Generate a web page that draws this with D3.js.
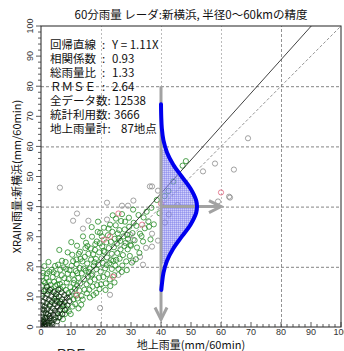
<!DOCTYPE html>
<html><head><meta charset="utf-8">
<script src="https://cdn.jsdelivr.net/npm/d3@7"></script>
<style>body{margin:0;background:#fff}</style>
</head><body>
<svg id="c" width="344" height="351"></svg>
<script>
// ---- text ----
const title = "60分雨量 レーダ:新横浜, 半径0～60kmの精度";
const xLabel = "地上雨量(mm/60min)";
const yLabel = "XRAIN雨量:新横浜(mm/60min)";
const pdfLabel = "PDF";
const statLabels = ["回帰直線", "相関係数", "総雨量比", "ＲＭＳＥ", "全データ数", "統計利用数", "地上雨量計"];
const statValues = ["Y = 1.11X", "0.93", "1.33", "2.64", "12538", "3666", "87地点"];

// ---- axes ----
const majorTicks = [0, 10, 20, 30, 40, 50, 60, 70, 80, 90, 100];
const minorTicks = d3.range(0, 101, 2);
const gridValues = [20, 40, 60, 80];
const slope = 1.11;

// ---- scatter (ground gauge vs radar, mm/60min) ----
const darkPts = [
  [0.2,0.3],[0.5,0.1],[0.3,1.2],[1,0.5],[1.2,1.8],[0.8,2.5],[1.5,1],[2,0.4],[2.2,2.2],[0.4,3.4],
  [1.8,3.1],[2.6,1.3],[3,3],[0.6,4.6],[1.1,5.5],[2.4,4.2],[3.3,2],[3.8,0.8],[0.1,0.9],[0.9,0.2],
  [1.4,2.9],[2.9,0.3],[0.2,2.1],[1.7,4.6],[2.8,3.6],[3.6,1.4],[0.5,5.9],[4.3,2.4],[1.3,0.1],[0.7,1.6],
  [0.3,7.2],[1.2,6.8],[2.1,5.9],[3.2,5.2],[4.1,4.1],[4.9,3.2],[5.4,1.9],[0.8,8.4],[1.9,7.9],[2.9,7.0],
  [3.9,6.2],[4.7,5.4],[5.6,4.5],[6.2,3.3],[1.5,9.6],[2.6,9.1],[3.6,8.3],[4.6,7.6],[5.5,6.7],[6.4,5.6],
  [7.1,4.3],[0.4,10.3],[2.2,10.8],[3.4,10.2],[4.4,9.4],[5.3,8.6],[6.2,7.8],[7.2,6.9],[8.0,5.6],[1.0,11.9],
  [3.0,12.3],[4.2,11.6],[5.1,10.9],[6.0,10.1],[7.0,9.2],[7.9,8.3],[8.8,7.2],[2.0,13.4],[5.8,12.4],[6.9,11.5],
  [7.8,10.6],[8.7,9.7],[9.5,8.6]
];
const greenPts = [
  [0.3,13.8],[0.9,15.2],[0.5,16.9],[1.4,14.6],[1.8,16.3],[0.7,18],[2,17.8],[2.6,15.1],[3.2,14],[3.5,19],
  [2.8,18.4],[3.9,16.6],[4.4,15],[4.8,13.6],[4.2,18.2],[4.7,20.3],[1.1,20.2],[2.5,21.6],[3.4,12.7],[1.6,12.4],
  [0.2,11.1],[2.4,11.9],[5.7,20.7],[5.2,17.6],[5.9,15.6],[6.4,19],[6.9,17.2],[6.3,14.3],[7,22],[7.5,19.8],
  [7.8,16.2],[7.3,13.4],[8.4,19.3],[8.2,21.6],[8.9,17.7],[8.6,14.8],[8.3,12.3],[9.2,15.9],[9.5,18.9],[9.8,13.2],
  [9.1,11.3],[9.6,10.1],[8.9,24.8],[6.1,25.6],[5.1,9.8],[6.6,8.4],[7.6,7.2],[8.5,6.1],[9.3,5.2],[9.9,4.3],
  [5.8,3.1],[7.3,2.6],[6.5,12.6],[5.4,14.1],[4.6,11.9],[3,7.5],[4.8,8.7],[6,5.3],[7,7.6],[8,4.3],
  [10.4,24],[10.2,20.3],[10.6,17.4],[10.9,14.6],[10.3,11.8],[10.8,9.2],[10.5,6.8],[11.1,15.6],[11.6,18.6],[11.8,22.4],
  [11.3,12.7],[11.7,10.4],[12,27],[12,13.8],[12.4,16.3],[12.9,19.6],[12.6,24.3],[12.2,9.5],[12.8,12.1],[13,25],
  [13.1,14.5],[13.5,10.3],[13.6,17.8],[13.8,21.8],[13.4,7.4],[14,30.1],[14.4,15.9],[14.6,23.3],[14.2,19.4],[14.5,12.4],
  [14.9,18.7],[14.8,26.2],[11.4,7.6],[12.5,6.2],[13.9,9.1],[10.1,28.2],[11.9,20.9],[13.2,22.6],[10.7,21.9],[12.1,17.9],
  [15,28],[15.2,14.2],[15.4,21.1],[15.6,16.8],[15.3,11.2],[15.8,24.3],[16.1,12.4],[16.2,19.4],[16.4,15.1],[16.6,26.1],
  [16.9,33.2],[16.7,22.4],[17,30],[17.1,17.5],[17.2,13.4],[17.4,24.2],[17.6,20.4],[17.8,21.5],[17.9,15.8],[18.1,27.5],
  [18.3,22.6],[18.5,19.2],[18.6,28.4],[18.7,13.9],[18.9,31.6],[19,35],[19.1,20.7],[19.3,16.4],[19.4,24.8],[19.7,31.3],
  [19.9,18.4],[19.6,27.8],[16.3,9.8],[17.5,10.6],[18.4,11.3],[19.5,12.6],[15.9,18.3],[16.8,17.1],[18,25.6],[15.5,26.9],
  [20,14.2],[20.2,22.8],[20.4,26.8],[20.6,21.3],[20.8,16.6],[20.3,30.1],[21,33],[21.2,24.9],[21.4,19.5],[21.6,14.5],
  [21.8,28.1],[22,23.1],[22.1,17.6],[22.3,30.5],[22.6,26.2],[22.8,21.2],[22.9,15.8],[23,34],[23.3,28.3],[23.6,19.3],
  [23.6,24.3],[23.8,31.6],[23.9,37.1],[24.1,22],[24.3,26.5],[24.4,17.2],[24.6,29.3],[24.8,20.4],[24.9,33.8],[21.5,12.3],
  [23.1,13.6],[24.5,14.8],[20.9,25.3],[21.9,20.6],[22.5,32.7],[23.4,22.2],
  [25,36],[25.1,22.3],[25.3,27.7],[25.4,24.6],[25.6,31.1],[25.8,19.3],[26.1,32.2],[26.2,22.7],[26.4,28.6],[26.5,25.8],
  [26.7,35.2],[27,37.5],[27.1,20.4],[27.3,23.9],[27.5,30.1],[27.8,26.9],[27.9,32.4],[28,35],[28.2,27.9],[28.4,21.8],
  [28.7,30.6],[28.9,25.8],[29,29.3],[29.3,36.3],[29.4,33.3],[29.6,23.6],[29.8,27.3],[26.9,18.3],[28.6,18.9],[25.9,29.4],
  [30,27],[30.3,21.4],[30.5,31.2],[30.7,39],[30.9,34.6],[31.2,28.8],[31.6,22.5],[31.8,33.6],[32,26.4],[32.5,37.2],
  [32.8,24.6],[33,31],[33.5,30.2],[34,28.4],[34.2,36.4],[34.6,32.8],[35.2,38.3],[35.8,35.1],[36,33.3],[36.5,29.1],
  [36.8,39.6],[37.6,34.1],[38.6,42.2],[39.5,37.8],[41.2,43.5],[42.5,45.2],[44.1,48.3],[47.2,53.6],[48.3,55.1]
];
const greyPts = [
  [6.3,46.3],[22,41.3],[12,37.7],[10.7,35.3],[15.8,35.3],[14,32.7],[22,35.7],[27,40.3],[29,40.3],[30.8,42],
  [37,46.7],[39,45.3],[36.3,46.7],[69,62.7],[58,54.3],[54,51.7],[64.3,52.3],[63,43],[59,41.7],[62.7,43.3],
  [41.3,34.7],[39,28.7],[37,31],[35,26.3],[33,23.3],[30.7,22],[29.7,30.7],[34,20.7],[37,26.7],[30.7,29],
  [25.8,17.3],[19.7,6.3],[23,10.7],[45.5,40.5],[42.6,37.4]
];
const redPts = [
  [25.8,37.7],[23,30],[60,44.7],[40,41],[33.7,34],[21,29],[12,10.7],[24,16.7]
];

// ---- fitted PDF across the 40 mm/60min gauge band ----
const pdfCenter = 40;
const pdfY  = [74, 70, 66, 62, 58, 54, 50, 46, 42, 40, 38, 34, 30, 26, 22, 18, 14, 12.3];
const pdfDx = [0, 0.08, 0.28, 0.82, 2.0, 4.05, 6.9, 9.83, 11.74, 12, 11.74, 9.83, 6.9, 4.05, 2.0, 0.82, 0.28, 0.1];
const pdfBand = [21, 59];
const arrowDown = [80, 2.5];
const arrowRight = [40, 60];

// ---- layout ----
const svg = d3.select("#c");
const x = d3.scaleLinear().domain([0, 100]).range([41, 341]);
const y = d3.scaleLinear().domain([0, 100]).range([327, 26]);
const jp = "'Noto Sans CJK JP', sans-serif";
const lat = "'Liberation Sans', Arial, sans-serif";

svg.append("text").attr("x", 191).attr("y", 19).attr("text-anchor", "middle")
  .style("font-family", jp).style("font-size", "11.5px").attr("fill", "#111").text(title);

const defs = svg.append("defs");
defs.append("clipPath").attr("id", "plot")
  .append("rect").attr("x", x(0)).attr("y", y(100)).attr("width", x(100) - x(0)).attr("height", y(0) - y(100));

const mesh = defs.append("pattern").attr("id", "mesh")
  .attr("width", 2).attr("height", 2).attr("patternUnits", "userSpaceOnUse");
mesh.append("rect").attr("width", 2).attr("height", 2).attr("fill", "rgba(150,150,245,0.45)");
mesh.append("path").attr("d", "M0,0.5H2M0.5,0V2").attr("stroke", "rgba(110,110,230,0.35)").attr("stroke-width", 1);

defs.append("clipPath").attr("id", "band")
  .append("rect").attr("x", x(0)).attr("y", y(pdfBand[1])).attr("width", 300).attr("height", y(pdfBand[0]) - y(pdfBand[1]));

// grid
const g = svg.append("g");
g.selectAll(".hg").data(gridValues).join("line")
  .attr("x1", x(0)).attr("x2", x(100)).attr("y1", d => y(d) + 0.5).attr("y2", d => y(d) + 0.5)
  .attr("stroke", "#666").attr("stroke-width", 0.8).attr("stroke-dasharray", "3,2");
g.selectAll(".vg").data(gridValues).join("line")
  .attr("y1", y(0)).attr("y2", y(100)).attr("x1", d => x(d) + 0.5).attr("x2", d => x(d) + 0.5)
  .attr("stroke", d => d === 80 ? "#777" : "#aaa").attr("stroke-width", 0.8).attr("stroke-dasharray", d => d === 80 ? "3,2" : "2,2");

// scatter
const pts = svg.append("g").attr("clip-path", "url(#plot)");
function dots(data, color) {
  pts.append("g").selectAll("circle").data(data).join("circle")
    .attr("cx", d => x(d[0])).attr("cy", d => y(d[1])).attr("r", 2.6)
    .attr("fill", "none").attr("stroke", color).attr("stroke-width", 0.8);
}
dots(greyPts, "#8a8a8a");
dots(greenPts, "#258a25");
dots(darkPts, "#0b2a0b");
dots(redPts, "#e0607a");

// reference lines
const ln = svg.append("g").attr("clip-path", "url(#plot)");
ln.append("line").attr("x1", x(0)).attr("y1", y(0)).attr("x2", x(100)).attr("y2", y(100))
  .attr("stroke", "#777").attr("stroke-width", 0.8).attr("stroke-dasharray", "3,2");
ln.append("line").attr("x1", x(0)).attr("y1", y(0)).attr("x2", x(100 / slope)).attr("y2", y(100))
  .attr("stroke", "#111").attr("stroke-width", 0.8);

// PDF band fill
const pdf = pdfY.map((v, i) => [pdfCenter + pdfDx[i], v]);
const area = d3.area().curve(d3.curveCatmullRom)
  .y(d => y(d[1])).x0(x(pdfCenter)).x1(d => x(d[0]));
svg.append("path").datum(pdf).attr("d", area).attr("fill", "url(#mesh)").attr("clip-path", "url(#band)");

// arrows
const arrowColor = "#a2a2a2";
svg.append("line").attr("x1", x(pdfCenter)).attr("x2", x(pdfCenter)).attr("y1", y(arrowDown[0])).attr("y2", y(arrowDown[1]))
  .attr("stroke", arrowColor).attr("stroke-width", 3);
svg.append("path").attr("d", `M${x(pdfCenter) - 6},${y(arrowDown[1]) - 12}L${x(pdfCenter)},${y(arrowDown[1])}L${x(pdfCenter) + 6},${y(arrowDown[1]) - 12}`)
  .attr("fill", "none").attr("stroke", arrowColor).attr("stroke-width", 3);
svg.append("line").attr("x1", x(arrowRight[0])).attr("x2", x(arrowRight[1])).attr("y1", y(pdfCenter)).attr("y2", y(pdfCenter))
  .attr("stroke", arrowColor).attr("stroke-width", 3);
svg.append("path").attr("d", `M${x(arrowRight[1]) - 12},${y(pdfCenter) - 6}L${x(arrowRight[1])},${y(pdfCenter)}L${x(arrowRight[1]) - 12},${y(pdfCenter) + 6}`)
  .attr("fill", "none").attr("stroke", arrowColor).attr("stroke-width", 3);

// PDF curve
svg.append("path").datum(pdf)
  .attr("d", d3.line().curve(d3.curveCatmullRom).x(d => x(d[0])).y(d => y(d[1])))
  .attr("fill", "none").attr("stroke", "#0000ee").attr("stroke-width", 4).attr("stroke-linecap", "round");

// frame
svg.append("rect").attr("x", x(0)).attr("y", y(100)).attr("width", x(100) - x(0)).attr("height", y(0) - y(100))
  .attr("fill", "none").attr("stroke", "#222").attr("stroke-width", 1);

// bottom axis: ticks pointing inward
const bx = svg.append("g");
bx.selectAll(".mt").data(minorTicks).join("line")
  .attr("x1", d => x(d)).attr("x2", d => x(d)).attr("y1", y(0)).attr("y2", d => y(0) - (d % 10 === 0 ? 5 : 3))
  .attr("stroke", "#333").attr("stroke-width", 0.8);
bx.selectAll("text").data(majorTicks).join("text")
  .attr("x", d => x(d)).attr("y", y(0) + 7.5).attr("text-anchor", "middle")
  .style("font-family", lat).style("font-size", "9px").attr("fill", "#333").text(d => d);

// left axis: ticks pointing outward, rotated labels
const lx = svg.append("g");
lx.selectAll(".mt").data(minorTicks).join("line")
  .attr("y1", d => y(d)).attr("y2", d => y(d)).attr("x1", x(0)).attr("x2", d => x(0) - (d % 10 === 0 ? 5 : 3))
  .attr("stroke", "#333").attr("stroke-width", 0.8);
lx.selectAll("text").data(majorTicks).join("text")
  .attr("transform", d => `translate(${x(0) - 8},${y(d)}) rotate(-90)`).attr("text-anchor", "middle")
  .style("font-family", lat).style("font-size", "9px").attr("fill", "#333").text(d => d);

svg.append("text").attr("x", 191).attr("y", 349).attr("text-anchor", "middle")
  .style("font-family", jp).style("font-size", "11px").attr("fill", "#111").text(xLabel);
svg.append("text").attr("transform", `translate(21,${(y(0) + y(100)) / 2}) rotate(-90)`).attr("text-anchor", "middle")
  .style("font-family", jp).style("font-size", "11px").attr("fill", "#111").text(yLabel);
svg.append("text").attr("x", 57).attr("y", 359)
  .style("font-family", lat).style("font-size", "14px").attr("fill", "#222").text(pdfLabel);

// statistics block: one text per row, columns set by tspans
const st = svg.append("g").style("font-family", jp).style("font-size", "11.5px").attr("fill", "#111");
statLabels.forEach((lab, i) => {
  const yy = 49 + i * 14;
  const long = lab.length >= 5;
  const row = st.append("text").attr("y", yy);
  row.append("tspan").attr("x", 50).text(lab);
  row.append("tspan").attr("x", long ? 50 + 5 * 11.5 : 102).text(":");
  row.append("tspan").attr("x", long ? (i === 6 ? 121 : 114) : 112).text(statValues[i]);
});
</script>
</body></html>
